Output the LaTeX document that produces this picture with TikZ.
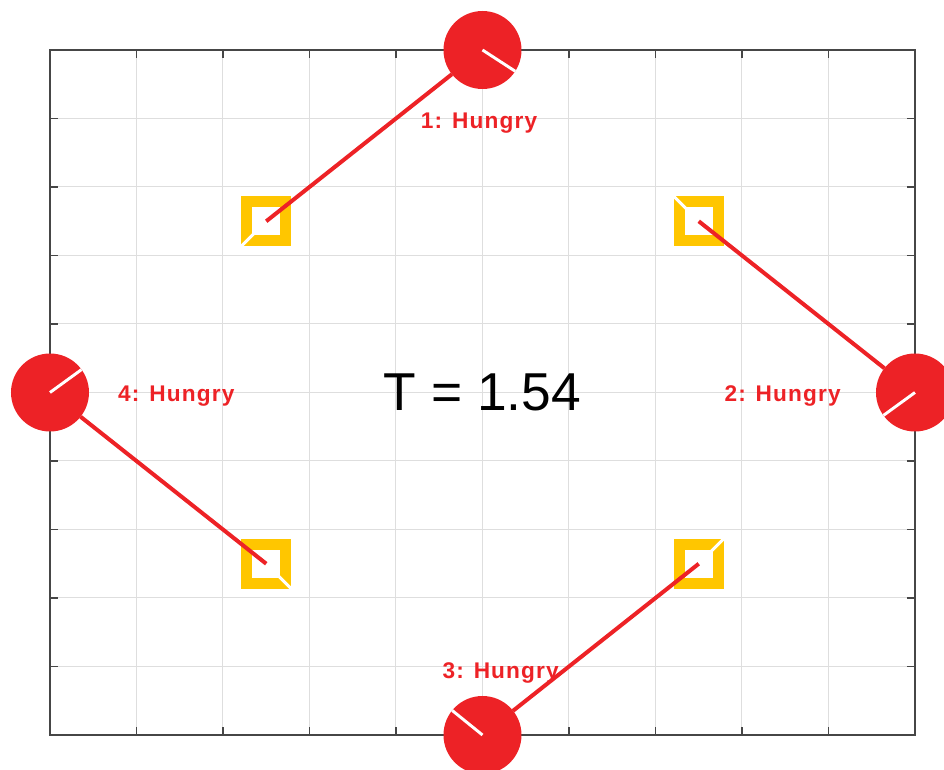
\documentclass[tikz,border=0pt]{standalone}
\usepackage{fontspec}
\setmainfont{Liberation Sans}
\newfontfamily\statefont[LetterSpace=5]{Liberation Sans}
\definecolor{phred}{RGB}{237,34,38}
\definecolor{forkyellow}{RGB}{255,198,0}
\definecolor{axisgray}{RGB}{70,70,70}
\definecolor{gridgray}{RGB}{222,222,222}

\begin{document}
\begin{tikzpicture}[
    x=64.875pt, y=51.375pt,
    philosopher/.style={circle, fill=phred, minimum size=58.5pt, inner sep=0pt, outer sep=0pt},
    fork/.style={rectangle, draw=forkyellow, line width=8.25pt, minimum size=29.25pt, inner sep=0pt, outer sep=4.125pt},
    state/.style={text=phred, font=\statefont\fontsize{17pt}{20pt}\selectfont\bfseries},
    clock/.style={font=\fontsize{40pt}{48pt}\selectfont},
    reach/.style={draw=phred, line width=3pt},
    slash/.style={draw=white, line width=2.2pt},
    gridline/.style={draw=gridgray, line width=0.75pt},
    axisline/.style={draw=axisgray, line width=1pt}
]
    \useasboundingbox (-5.578,-5.5109) rectangle (5.3353,5.7299);

% -------------------------
% Axes, grid & ticks
% -------------------------
    \foreach \k in {-4,...,4} {
        \draw[gridline] (\k,-5) -- (\k,5);
        \draw[gridline] (-5,\k) -- (5,\k);
    }
    \foreach \k in {-4,...,4} {
        \draw[axisline] (\k,5) -- ++(0pt,-6pt);
        \draw[axisline] (\k,-5) -- ++(0pt,6pt);
        \draw[axisline] (-5,\k) -- ++(6pt,0pt);
        \draw[axisline] (5,\k) -- ++(-6pt,0pt);
    }
    \draw[axisline] (-5,-5) rectangle (5,5);

% -------------------------
% Forks
% -------------------------
    \node[fork] (fk1) at (-2.5,2.5) {};
    \node[fork] (fk2) at (2.5,2.5) {};
    \node[fork] (fk3) at (2.5,-2.5) {};
    \node[fork] (fk4) at (-2.5,-2.5) {};

    \draw[slash] (fk1.center) -- (fk1.south west);
    \draw[slash] (fk2.center) -- (fk2.north west);
    \draw[slash] (fk3.center) -- (fk3.north east);
    \draw[slash] (fk4.center) -- (fk4.south east);

% -------------------------
% Philosophers
% -------------------------
    \node[philosopher] (ph1) at (0,5) {};
    \node[philosopher] (ph2) at (5,0) {};
    \node[philosopher] (ph3) at (0,-5) {};
    \node[philosopher] (ph4) at (-5,0) {};

    % arms reaching for the forks
    \draw[reach] (fk1.center) -- (ph1);
    \draw[reach] (fk2.center) -- (ph2);
    \draw[reach] (fk3.center) -- (ph3);
    \draw[reach] (fk4.center) -- (ph4);

    % heading of each philosopher
    \draw[slash] (ph1.center) -- (ph1.-33);
    \draw[slash] (ph2.center) -- (ph2.216);
    \draw[slash] (ph3.center) -- (ph3.141);
    \draw[slash] (ph4.center) -- (ph4.36);

% -------------------------
% Labels
% -------------------------
    \node[state] (lb1) at (-0.04,3.93) {1: Hungry};
    \node[state] (lb2) at (3.47,-0.05) {2: Hungry};
    \node[state] (lb3) at (0.21,-4.1) {3: Hungry};
    \node[state] (lb4) at (-3.54,-0.05) {4: Hungry};

    \node[clock] (time) at (0,0) {T = 1.54};
\end{tikzpicture}
\end{document}
